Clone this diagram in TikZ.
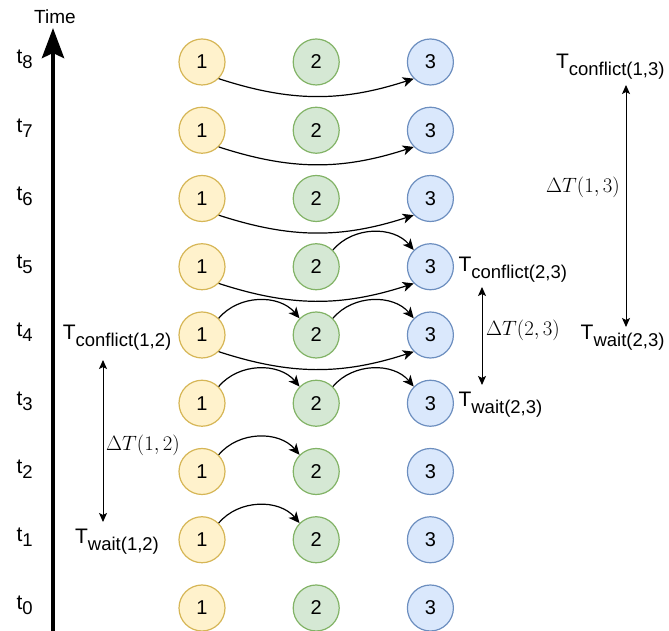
\documentclass[tikz,border=0pt]{standalone}
\usepackage{fontspec}
\usetikzlibrary{arrows.meta,positioning}
\newfontfamily\labelfont{Liberation Sans}
\definecolor{YellowFill}{HTML}{FFF2CC}
\definecolor{YellowLine}{HTML}{D6B656}
\definecolor{GreenFill}{HTML}{D5E8D4}
\definecolor{GreenLine}{HTML}{82B366}
\definecolor{BlueFill}{HTML}{DAE8FC}
\definecolor{BlueLine}{HTML}{6C8EBF}
\newcommand{\lowsub}[3][7pt]{#2\raisebox{-#1}{\fontsize{18.5}{18.5}\selectfont #3}}

\begin{document}
\begin{tikzpicture}[x=1pt,y=1pt,
  every node/.style={font=\labelfont\fontsize{21}{21}\selectfont},
  agent/.style={circle,minimum size=46pt,inner sep=0pt,line width=1.2pt,font=\labelfont\fontsize{20}{20}\selectfont},
  agentA/.style={agent,draw=YellowLine,fill=YellowFill},
  agentB/.style={agent,draw=GreenLine,fill=GreenFill},
  agentC/.style={agent,draw=BlueLine,fill=BlueFill},
  flow/.style={-{Stealth[length=11pt,width=10pt,inset=3pt]},line width=1.2pt},
  span/.style={{Stealth[length=9pt,width=8pt,inset=2pt]}-{Stealth[length=9pt,width=8pt,inset=2pt]},line width=1pt},
  delta/.style={font=\fontsize{20}{24}\selectfont}]
\useasboundingbox (0,0) rectangle (669,631);
% time axis
\coordinate (tbase) at (53,0);
\coordinate (ttip) at (53,603);
\draw[line width=4.5pt,-{Stealth[length=30pt,width=22pt,inset=5pt]}] (tbase) -- (ttip);
\node[font=\labelfont\fontsize{19}{19}\selectfont] (time) at (55,614) {Time};
% agents per time step
\foreach \k in {0,...,8}{
  \node[agentA] (a\k) at (202,{23+68.25*\k}) {1};
  \node[agentB,right=67pt of a\k] (b\k) {2};
  \node[agentC,right=67pt of b\k] (c\k) {3};
  \node[anchor=base west] (t\k) at (13,{21+68.25*\k}) {\lowsub[5pt]{t}{\k}};
}
\foreach \k in {1,...,4} \draw[flow] (a\k.45) to[bend left=50] (b\k.135);
\foreach \k in {3,4,5} \draw[flow] (b\k.45) to[bend left=50] (c\k.135);
\foreach \k in {4,...,8} \draw[flow] (a\k.-45) to[bend right=18] (c\k.-135);
% conflict 1-2
\node[anchor=base] (tc12) at (117,291) {\lowsub{T}{conflict(1,2)}};
\node[anchor=base] (tw12) at (117,87) {\lowsub{T}{wait(1,2)}};
\coordinate (d12top) at (103,271); \coordinate (d12bot) at (103,109);
\draw[span] (d12top) -- (d12bot);
\node[delta] (dt12) at (143,186) {$\Delta T(1,2)$};
% conflict 2-3
\node[anchor=base west] (tc23) at (455,359) {\lowsub{T}{conflict(2,3)}};
\node[anchor=base west] (tw23) at (455,224) {\lowsub{T}{wait(2,3)}};
\coordinate (d23top) at (482,344); \coordinate (d23bot) at (482,246);
\draw[span] (d23top) -- (d23bot);
\node[delta] (dt23) at (523,301) {$\Delta T(2,3)$};
% conflict 1-3
\node[anchor=base east] (tc13) at (668,562) {\lowsub{T}{conflict(1,3)}};
\node[anchor=base east] (tw13) at (668,291) {\lowsub{T}{wait(2,3)}};
\coordinate (d13top) at (626,546); \coordinate (d13bot) at (626,304);
\draw[span] (d13top) -- (d13bot);
\node[delta] (dt13) at (583,444) {$\Delta T(1,3)$};
\end{tikzpicture}
\end{document}
